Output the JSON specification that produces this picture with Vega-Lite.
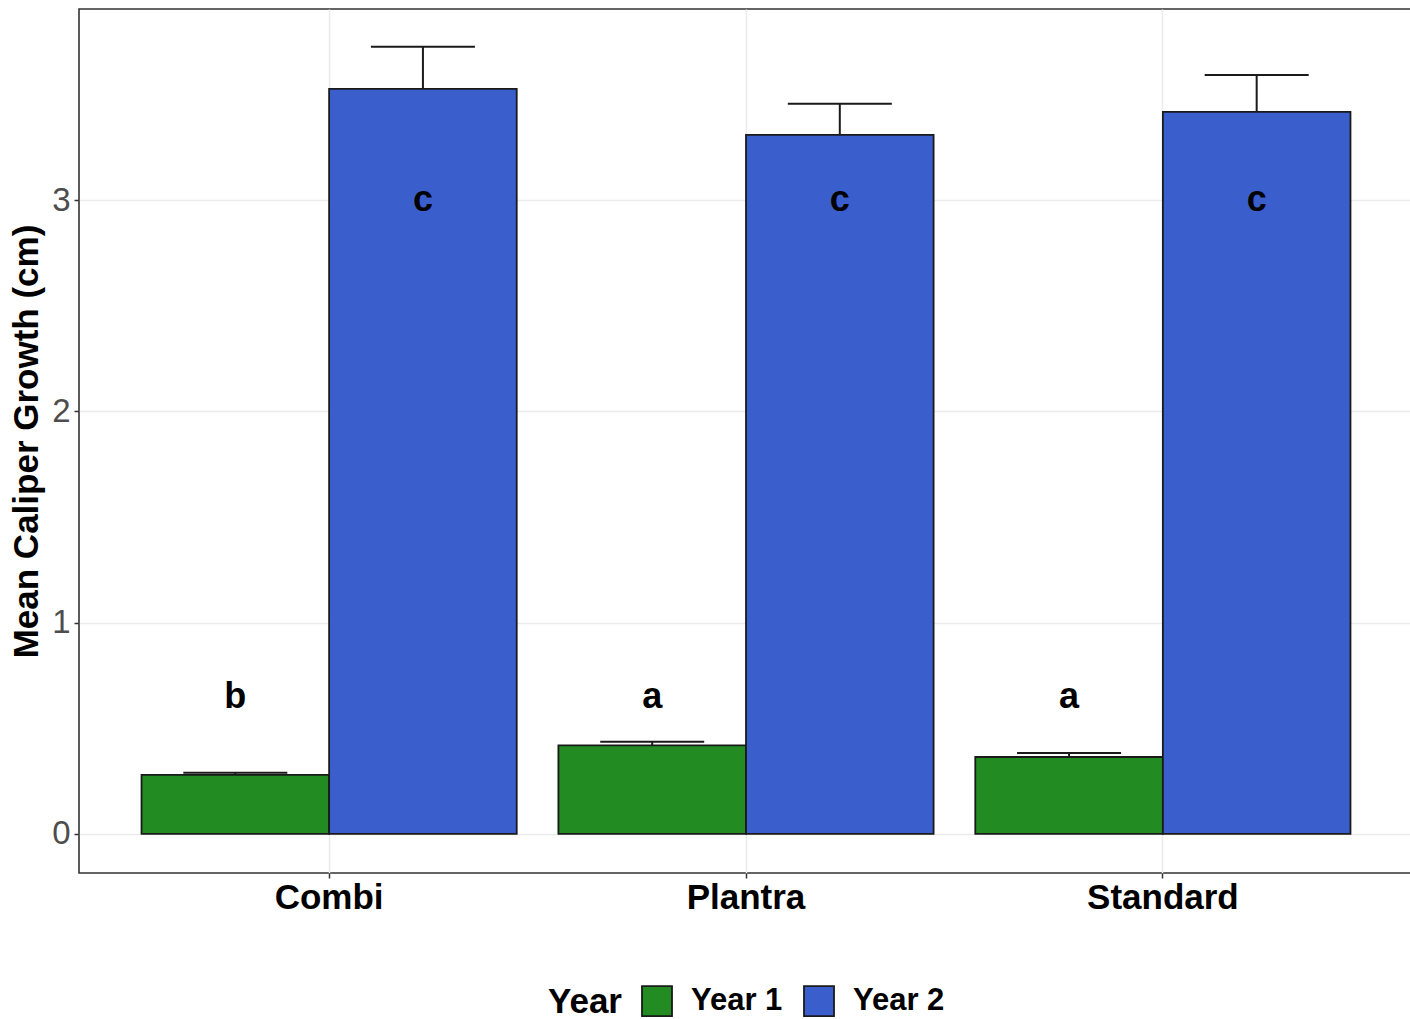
{
  "$schema": "https://vega.github.io/schema/vega-lite/v6.json",
  "width": 1334,
  "height": 864,
  "autosize": {"type": "none"},
  "padding": {"left": 79, "top": 9, "right": 0, "bottom": 146},
  "background": "white",
  "config": {
    "font": "Liberation Sans",
    "view": {"stroke": "#333333", "strokeWidth": 1.6}
  },
  "data": {
    "values": [
      {"product": "Combi", "year": "Year 1", "mean": 0.279, "upper": 0.289, "letter": "b", "letter_y": 0.65},
      {"product": "Combi", "year": "Year 2", "mean": 3.526, "upper": 3.725, "letter": "c", "letter_y": 3.0},
      {"product": "Plantra", "year": "Year 1", "mean": 0.419, "upper": 0.436, "letter": "a", "letter_y": 0.65},
      {"product": "Plantra", "year": "Year 2", "mean": 3.308, "upper": 3.455, "letter": "c", "letter_y": 3.0},
      {"product": "Standard", "year": "Year 1", "mean": 0.364, "upper": 0.383, "letter": "a", "letter_y": 0.65},
      {"product": "Standard", "year": "Year 2", "mean": 3.417, "upper": 3.592, "letter": "c", "letter_y": 3.0}
    ]
  },
  "encoding": {
    "x": {
      "field": "product",
      "type": "nominal",
      "sort": ["Combi", "Plantra", "Standard"],
      "scale": {"paddingInner": 0.1, "paddingOuter": 0.15},
      "axis": {
        "title": null,
        "labelAngle": 0,
        "labelFont": "Liberation Sans",
        "labelFontSize": 35,
        "labelFontWeight": "bold",
        "labelColor": "#000000",
        "labelPadding": 2,
        "domain": false,
        "ticks": true,
        "tickSize": 5,
        "tickColor": "#333333",
        "tickWidth": 1.5,
        "bandPosition": 0.5,
        "grid": true,
        "gridColor": "#ebebeb",
        "gridWidth": 1.5
      }
    },
    "xOffset": {"field": "year", "type": "nominal", "scale": {"paddingInner": 0, "paddingOuter": 0}}
  },
  "layer": [
    {
      "mark": {"type": "rule", "color": "#1a1a1a", "strokeWidth": 2},
      "encoding": {
        "y": {
          "field": "mean",
          "type": "quantitative",
          "scale": {"domain": [-0.185, 3.904], "nice": false, "zero": false},
          "axis": {
            "title": "Mean Caliper Growth (cm)",
            "titleFont": "Liberation Sans",
            "titleFontSize": 35,
            "titleFontWeight": "bold",
            "titleColor": "#000000",
            "titlePadding": 7,
            "values": [0, 0.5, 1, 1.5, 2, 2.5, 3, 3.5],
            "format": "d",
            "labelExpr": "datum.value % 1 === 0 ? datum.label : ''",
            "labelFont": "Liberation Sans",
            "labelFontSize": 33,
            "labelColor": "#4d4d4d",
            "labelPadding": 4,
            "domain": false,
            "tickSize": 5,
            "tickColor": "#333333",
            "tickWidth": 1.5,
            "tickOpacity": {"condition": {"test": "datum.value % 1 !== 0", "value": 0}, "value": 1},
            "grid": true,
            "gridColor": {"condition": {"test": "datum.value % 1 !== 0", "value": "#f3f3f3"}, "value": "#ebebeb"},
            "gridWidth": {"condition": {"test": "datum.value % 1 !== 0", "value": 1}, "value": 1.5}
          }
        },
        "y2": {"field": "upper"}
      }
    },
    {
      "mark": {"type": "tick", "color": "#1a1a1a", "thickness": 2, "size": 104, "opacity": 1},
      "encoding": {
        "y": {"field": "upper", "type": "quantitative"}
      }
    },
    {
      "mark": {"type": "bar", "stroke": "#1a1a1a", "strokeWidth": 1.8},
      "encoding": {
        "y": {"field": "mean", "type": "quantitative"},
        "y2": {"datum": 0},
        "color": {
          "field": "year",
          "type": "nominal",
          "scale": {"domain": ["Year 1", "Year 2"], "range": ["#228B22", "#3A5FCD"]},
          "legend": {
            "title": "Year",
            "orient": "none",
            "direction": "horizontal",
            "legendX": 469,
            "legendY": 976,
            "titleOrient": "left",
            "titleFont": "Liberation Sans",
            "titleFontSize": 35,
            "titleFontWeight": "bold",
            "titleColor": "#000000",
            "titlePadding": 19,
            "titleBaseline": "middle",
            "labelFont": "Liberation Sans",
            "labelFontSize": 31,
            "labelFontWeight": "bold",
            "labelColor": "#000000",
            "labelOffset": 18,
            "columnPadding": 17,
            "symbolType": "square",
            "symbolSize": 900,
            "symbolStrokeColor": "#1a1a1a",
            "symbolStrokeWidth": 1.8,
            "symbolOpacity": 1,
            "padding": 0
          }
        }
      }
    },
    {
      "mark": {"type": "text", "font": "Liberation Sans", "fontSize": 36, "fontWeight": "bold", "color": "#000000", "baseline": "middle", "align": "center"},
      "encoding": {
        "y": {"field": "letter_y", "type": "quantitative"},
        "text": {"field": "letter"}
      }
    }
  ]
}
